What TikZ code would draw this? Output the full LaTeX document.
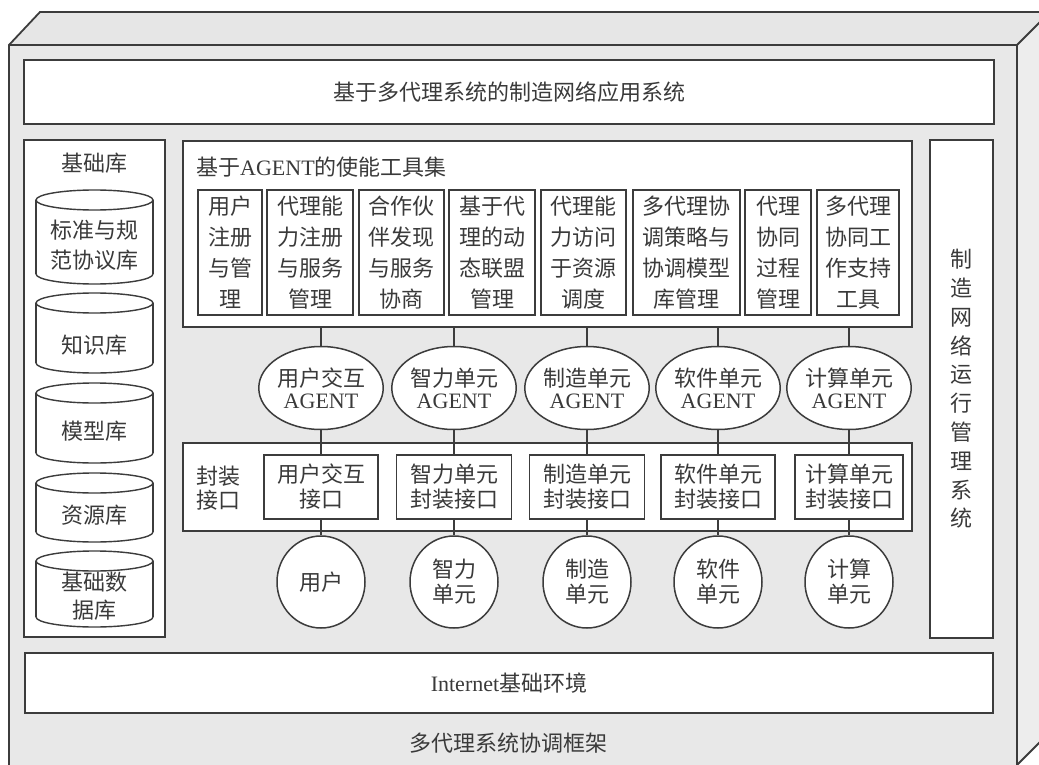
\documentclass[tikz,border=0pt]{standalone}
\usepackage{fontspec}
\setmainfont{Liberation Serif}
\newfontfamily\cjk{Noto Sans CJK SC}
\newfontfamily\lat{Liberation Serif}
\usetikzlibrary{shapes.geometric}
\definecolor{lc}{HTML}{3C3C3C}
\definecolor{tc}{HTML}{3A3A3A}
\definecolor{frontf}{HTML}{E8E8E8}
\definecolor{topf}{HTML}{E6E6E6}
\definecolor{sidef}{HTML}{EDEDED}
\newcommand\dbcyl[2]{%
  \fill[white] (36,#1+10) rectangle (153,#2-10);
  \fill[white] (94.5,#2-10) ellipse [x radius=58.5pt, y radius=10pt];
  \draw[cylline] (36,#1+10) -- (36,#2-10);
  \draw[cylline] (153,#1+10) -- (153,#2-10);
  \draw[cylline] (36,#2-10) arc [start angle=180, end angle=360, x radius=58.5pt, y radius=10pt];
  \draw[cylline, fill=white] (94.5,#1+10) ellipse [x radius=58.5pt, y radius=10pt];
}
\begin{document}
\begin{tikzpicture}[x=1pt,y=-1pt,
  cylline/.style={draw=lc, line width=1.4pt},
  box/.style={draw=lc, fill=white, line width=1.5pt, inner sep=0pt, align=center, text=tc,
              font=\cjk\fontsize{22}{31}\selectfont},
  toolbox/.style={box, minimum height=125pt},
  ifbox/.style={box, minimum height=64pt, font=\cjk\fontsize{22}{25}\selectfont},
  lbl/.style={inner sep=0pt, align=center, text=tc, font=\cjk\fontsize{22}{31}\selectfont},
  agent/.style={ellipse, draw=lc, fill=white, line width=1.5pt, inner sep=0pt, align=center,
              text=tc, minimum width=116pt, minimum height=83pt, font=\cjk\fontsize{22}{22}\selectfont},
  unit/.style={ellipse, draw=lc, fill=white, line width=1.5pt, inner sep=0pt, align=center,
              text=tc, minimum width=88pt, minimum height=92pt, font=\cjk\fontsize{22}{25}\selectfont},
  conn/.style={draw=lc, line width=1.4pt},
  edge3d/.style={draw=lc, line width=1.8pt}
]
\useasboundingbox (0,0) rectangle (1039,765);
\clip (0,0) rectangle (1039,765);
\fill[white] (0,0) rectangle (1039,765);
% 3D frame
\fill[frontf] (9,45) rectangle (1017,790);
\fill[topf] (9,45) -- (40,12) -- (1060,12) -- (1017,45) -- cycle;
\fill[sidef] (1017,45) -- (1050,12) -- (1050,732) -- (1017,765) -- cycle;
\draw[edge3d] (9,790) -- (9,45) -- (40,12) -- (1060,12);
\draw[edge3d] (9,45) -- (1017,45) -- (1050,12);
\draw[edge3d] (1017,45) -- (1017,790);
\draw[edge3d] (1017,765) -- (1050,732);

% top application system
\node[box, minimum width=970pt, minimum height=64pt] (app) at (509,92) {基于多代理系统的制造网络应用系统};

% base library
\node[box, minimum width=141pt, minimum height=497pt] (base) at (94.5,388.5) {};
\node[lbl] (basettl) at (94.5,163) {基础库};
\dbcyl{190}{284}
\dbcyl{293}{373}
\dbcyl{383}{463}
\dbcyl{473}{542}
\dbcyl{551}{627}
\node[lbl, font=\cjk\fontsize{22}{30}\selectfont] (c1) at (94.5,245) {标准与规\\范协议库};
\node[lbl] (c2) at (94.5,345) {知识库};
\node[lbl] (c3) at (94.5,431) {模型库};
\node[lbl] (c4) at (94.5,515) {资源库};
\node[lbl, font=\cjk\fontsize{22}{28}\selectfont] (c5) at (94.5,596) {基础数\\据库};

% right management system
\node[box, minimum width=63pt, minimum height=498pt, font=\cjk\fontsize{22}{28.8}\selectfont] (mgmt) at (961.5,389)
  {制\\造\\网\\络\\运\\行\\管\\理\\系\\统};

% tools
\node[box, minimum width=729pt, minimum height=186pt] (tools) at (547.5,234) {};
\node[lbl, anchor=west] (toolsttl) at (196,167) {基于{\lat AGENT}的使能工具集};
\node[toolbox, minimum width=64pt] (t1) at (230,252.5) {用户\\注册\\与管\\理};
\node[toolbox, minimum width=86pt] (t2) at (310,252.5) {代理能\\力注册\\与服务\\管理};
\node[toolbox, minimum width=85pt] (t3) at (401.5,252.5) {合作伙\\伴发现\\与服务\\协商};
\node[toolbox, minimum width=86pt] (t4) at (492,252.5) {基于代\\理的动\\态联盟\\管理};
\node[toolbox, minimum width=85pt] (t5) at (583.5,252.5) {代理能\\力访问\\于资源\\调度};
\node[toolbox, minimum width=107pt] (t6) at (686.5,252.5) {多代理协\\调策略与\\协调模型\\库管理};
\node[toolbox, minimum width=66pt] (t7) at (778,252.5) {代理\\协同\\过程\\管理};
\node[toolbox, minimum width=82pt] (t8) at (858,252.5) {多代理\\协同工\\作支持\\工具};

% interface layer
\node[box, minimum width=729pt, minimum height=88pt] (iface) at (547.5,487) {};
\node[lbl, font=\cjk\fontsize{22}{24}\selectfont] (ifttl) at (218,488) {封装\\接口};
\node[ifbox, minimum width=114pt] (i1) at (321,487) {用户交互\\接口};
\node[ifbox, minimum width=115pt] (i2) at (454,487) {智力单元\\封装接口};
\node[ifbox, minimum width=115pt] (i3) at (587,487) {制造单元\\封装接口};
\node[ifbox, minimum width=114pt] (i4) at (718,487) {软件单元\\封装接口};
\node[ifbox, minimum width=108pt] (i5) at (849,487) {计算单元\\封装接口};

% agents
\node[agent] (a1) at (321,388) {用户交互\\{\lat AGENT}};
\node[agent] (a2) at (454,388) {智力单元\\{\lat AGENT}};
\node[agent] (a3) at (587,388) {制造单元\\{\lat AGENT}};
\node[agent] (a4) at (718,388) {软件单元\\{\lat AGENT}};
\node[agent] (a5) at (849,388) {计算单元\\{\lat AGENT}};

% units
\node[unit] (u1) at (321,582) {用户};
\node[unit] (u2) at (454,582) {智力\\单元};
\node[unit] (u3) at (587,582) {制造\\单元};
\node[unit] (u4) at (718,582) {软件\\单元};
\node[unit] (u5) at (849,582) {计算\\单元};

% connectors
\foreach \k in {1,...,5}{
  \draw[conn] (tools.south -| a\k.north) -- (a\k.north);
  \draw[conn] (a\k.south) -- (i\k.north);
  \draw[conn] (i\k.south) -- (u\k.north);
}

% internet
\node[box, minimum width=968pt, minimum height=60pt] (net) at (509,683) {{\lat Internet}基础环境};
\node[lbl] (frame) at (508,743) {多代理系统协调框架};
\end{tikzpicture}
\end{document}
